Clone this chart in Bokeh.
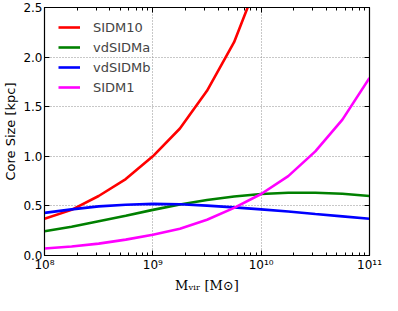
from bokeh.plotting import figure
from bokeh.models import FixedTicker, LinearAxis, LogAxis, Legend, LegendItem, NumeralTickFormatter
from bokeh.embed import file_html
from bokeh.resources import INLINE

log_mass = [8.0, 8.25, 8.5, 8.75, 9.0, 9.25, 9.5, 9.75, 10.0, 10.25, 10.5, 10.75, 11.0]
mass = [10 ** v for v in log_mass]

sidm10 = [0.37, 0.46, 0.60, 0.77, 1.00, 1.28, 1.66, 2.15, 2.85]
vdsidma = [0.245, 0.29, 0.345, 0.40, 0.46, 0.515, 0.56, 0.595, 0.62, 0.632, 0.632, 0.622, 0.60]
vdsidmb = [0.43, 0.465, 0.495, 0.512, 0.52, 0.517, 0.503, 0.485, 0.465, 0.443, 0.418, 0.394, 0.37]
sidm1 = [0.07, 0.09, 0.12, 0.16, 0.21, 0.27, 0.36, 0.48, 0.62, 0.80, 1.05, 1.37, 1.79]

names = ["SIDM10", "vdSIDMa", "vdSIDMb", "SIDM1"]
colors = ["#ff0000", "#008000", "#0000ff", "#ff00ff"]
series = [sidm10, vdsidma, vdsidmb, sidm1]

x_major = [1e8, 1e9, 1e10, 1e11]
x_labels = ["10\u2078", "10\u2079", "10\u00b9\u2070", "10\u00b9\u00b9"]
y_major = [0.0, 0.5, 1.0, 1.5, 2.0, 2.5]

FONT = "DejaVu Sans"

p = figure(width=382, height=295, x_axis_type="log", x_range=(1e8, 1e11), y_range=(0, 2.5),
           output_backend="svg", toolbar_location=None,
           min_border_left=0, min_border_top=7, min_border_right=13, min_border_bottom=30)
p.background_fill_color = "white"
p.border_fill_color = "white"
p.outline_line_color = "black"
p.outline_line_width = 1.2

minor = [m * 10 ** e for e in range(8, 11) for m in range(2, 10)]
xt = FixedTicker(ticks=x_major, minor_ticks=minor)
yt = FixedTicker(ticks=y_major)

renderers = []
for name, col, vals in zip(names, colors, series):
    r = p.line(mass[:len(vals)], vals, line_color=col, line_width=2.6)
    renderers.append((name, r))

xa = p.xaxis[0]
xa.ticker = xt
xa.major_label_overrides = {v: s for v, s in zip(x_major, x_labels)}
ya = p.yaxis[0]
ya.ticker = yt
ya.formatter = NumeralTickFormatter(format="0.0")
for ax in (xa, ya):
    ax.major_tick_in = 5
    ax.major_tick_out = 0
    ax.minor_tick_in = 3
    ax.minor_tick_out = 0
    ax.axis_line_color = "black"
    ax.major_label_text_font = FONT
    ax.major_label_text_font_size = "12px"
    ax.major_label_text_color = "black"
    ax.axis_label_text_font_style = "normal"
    ax.axis_label_text_color = "black"
ya.minor_tick_in = 0
ya.major_label_standoff = 2
ya.axis_label = "Core Size [kpc]"
ya.axis_label_text_font = FONT
ya.axis_label_text_font_size = "13px"
ya.axis_label_standoff = 2
xa.major_label_standoff = 2
xa.axis_label = "M\u1d65\u1d62\u1d63 [M\u2299]"
xa.axis_label_text_font = "DejaVu Serif"
xa.axis_label_text_font_size = "13px"
xa.axis_label_standoff = 3

top = LogAxis(ticker=FixedTicker(ticks=x_major, minor_ticks=minor), major_tick_in=5, major_tick_out=0,
              minor_tick_in=3, minor_tick_out=0, major_label_text_font_size="1px",
              major_label_text_alpha=0, major_label_standoff=0, axis_line_color="black")
right = LinearAxis(ticker=FixedTicker(ticks=y_major), major_tick_in=5, major_tick_out=0,
                   minor_tick_in=0, minor_tick_out=0, major_label_text_font_size="1px",
                   major_label_text_alpha=0, major_label_standoff=0, axis_line_color="black")
p.add_layout(top, "above")
p.add_layout(right, "right")

p.xgrid.ticker = xt
p.ygrid.ticker = yt
for g in (p.xgrid[0], p.ygrid[0]):
    g.grid_line_color = "#909090"
    g.grid_line_dash = "1 2"
    g.grid_line_width = 1

legend = Legend(items=[LegendItem(label=n, renderers=[r]) for n, r in renderers],
                location=(14, 158), border_line_color=None, background_fill_alpha=0,
                padding=0, margin=0, spacing=0, label_height=20, glyph_height=20,
                glyph_width=22, label_standoff=13,
                label_text_font=FONT, label_text_font_size="13px")
p.add_layout(legend)

open("out.html", "w").write(file_html(p, INLINE))
